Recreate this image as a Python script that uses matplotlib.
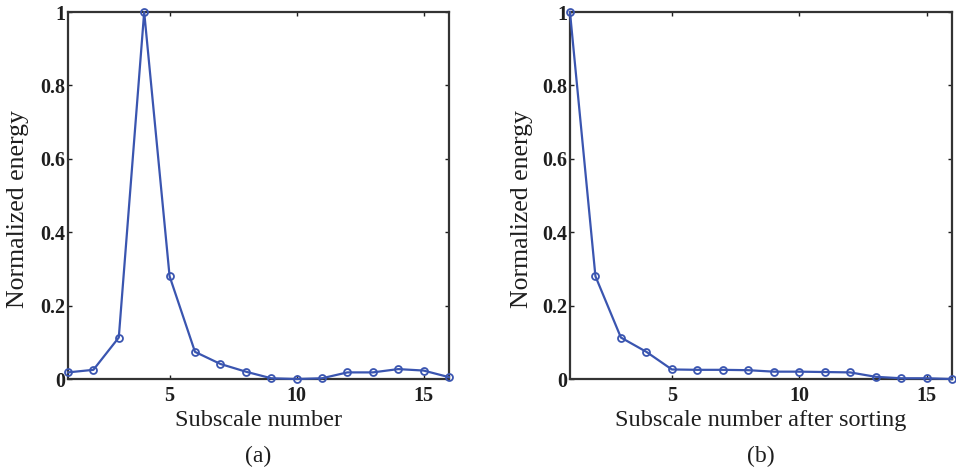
import numpy as np
import matplotlib
matplotlib.use('Agg')
import matplotlib.pyplot as plt

plt.rcParams['font.family'] = ['Liberation Serif', 'DejaVu Serif']

# Subscale index
subscale = list(range(1, 17))

# (a) normalized energy per subscale
energy_a = [0.018, 0.025, 0.113, 1.0, 0.28, 0.074, 0.041, 0.020,
            0.002, 0.0, 0.002, 0.018, 0.018, 0.027, 0.023, 0.005]

# (b) normalized energy after sorting
energy_b = [1.0, 0.28, 0.113, 0.074, 0.026, 0.025, 0.025, 0.024,
            0.020, 0.020, 0.019, 0.018, 0.006, 0.002, 0.002, 0.0]

xticks = [5, 10, 15]
yticks = [0, 0.2, 0.4, 0.6, 0.8, 1]
ytick_labels = ['0', '0.2', '0.4', '0.6', '0.8', '1']

line_color = '#3a55b0'
text_color = '#1e1e1e'

fig = plt.figure(figsize=(9.56, 4.75), dpi=100)
ax_a = fig.add_axes([0.0711, 0.2021, 0.3986, 0.7726])
ax_b = fig.add_axes([0.5962, 0.2021, 0.3996, 0.7726])

panels = [
    (ax_a, energy_a, 'Subscale number', '(a)', 18 / 956),
    (ax_b, energy_b, 'Subscale number after sorting', '(b)', 522 / 956),
]

for ax, vals, xlab, tag, ylab_x in panels:
    ax.plot(subscale, vals, color=line_color, lw=1.6, marker='o',
            markersize=5, markerfacecolor='none', markeredgewidth=1.3,
            clip_on=False, zorder=3)
    ax.set_xlim(1, 16)
    ax.set_ylim(0, 1)
    ax.set_xticks(xticks)
    ax.set_yticks(yticks)
    ax.set_yticklabels(ytick_labels)
    ax.tick_params(direction='in', top=True, right=True, length=3,
                   width=1.0, labelsize=14.5, colors=text_color)
    ax.tick_params(axis='x', pad=5)
    ax.tick_params(axis='y', pad=2)
    for lbl in ax.get_xticklabels() + ax.get_yticklabels():
        lbl.set_fontweight('bold')
    for s in ax.spines.values():
        s.set_linewidth(1.6)
        s.set_color('#333333')
    # x label placed by hand to match the reference spacing
    ax.text(0.5, -(420 - 379) / 367, xlab, transform=ax.transAxes,
            ha='center', va='center', fontsize=17.5, color=text_color)
    fig.text(ylab_x, 1 - 209 / 475, 'Normalized energy', rotation=90,
             ha='center', va='center', fontsize=18.5, color=text_color)
    ax.text(0.5, -0.212, tag, transform=ax.transAxes, ha='center',
            va='center', fontsize=17, color=text_color)

plt.savefig('out.png', dpi=100, facecolor='white')
